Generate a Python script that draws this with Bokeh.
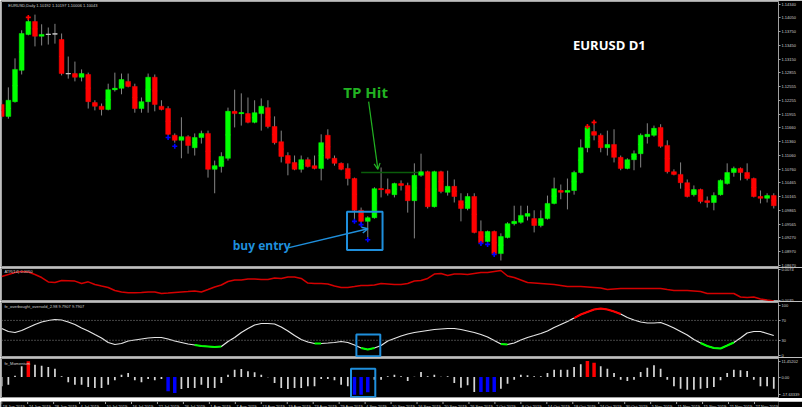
from bokeh.plotting import figure
from bokeh.layouts import column
from bokeh.models import (Range1d, FixedTicker, Label, Arrow, OpenHead, BoxAnnotation, Span,
                          ColumnDataSource, NumeralTickFormatter)
from bokeh.core.properties import value
from bokeh.embed import file_html
from bokeh.resources import INLINE

# ---------------- data ----------------
date_labels = ["18 Jun 2019", "24 Jun 2019", "28 Jun 2019", "4 Jul 2019", "10 Jul 2019", "16 Jul 2019",
               "22 Jul 2019", "26 Jul 2019", "1 Aug 2019", "7 Aug 2019", "13 Aug 2019", "19 Aug 2019",
               "23 Aug 2019", "29 Aug 2019", "4 Sep 2019", "10 Sep 2019", "16 Sep 2019", "20 Sep 2019",
               "26 Sep 2019", "2 Oct 2019", "8 Oct 2019", "14 Oct 2019", "18 Oct 2019", "24 Oct 2019",
               "30 Oct 2019", "5 Nov 2019", "11 Nov 2019", "15 Nov 2019", "21 Nov 2019", "27 Nov 2019"]
date_step = 4

opens = [1.1217, 1.1191, 1.1223, 1.1291, 1.1369, 1.1397, 1.1365, 1.1369, 1.1370, 1.1358,
         1.1284, 1.1284, 1.1276, 1.1282, 1.1221, 1.1213, 1.1206, 1.1249, 1.1252, 1.1267,
         1.1256, 1.1208, 1.1223, 1.1276, 1.1213, 1.1208, 1.1150, 1.1139, 1.1147, 1.1123,
         1.1145, 1.1154, 1.1076, 1.1082, 1.1100, 1.1202, 1.1197, 1.1197, 1.1178, 1.1197,
         1.1210, 1.1169, 1.1136, 1.1106, 1.1091, 1.1076, 1.1097, 1.1084, 1.1078, 1.1150,
         1.1100, 1.1089, 1.1078, 1.1056, 1.0987, 1.0963, 1.0971, 1.1034, 1.1032, 1.1021,
         1.1045, 1.1041, 1.1008, 1.1063, 1.1071, 1.0995, 1.1071, 1.1026, 1.1039, 1.1008,
         1.0991, 1.1017, 1.0941, 1.0919, 1.0941, 1.0893, 1.0928, 1.0958, 1.0961, 1.0974,
         1.0969, 1.0954, 1.0969, 1.1002, 1.1030, 1.1026, 1.1030, 1.1069, 1.1123, 1.1158,
         1.1150, 1.1123, 1.1130, 1.1102, 1.1078, 1.1097, 1.1110, 1.1147, 1.1150, 1.1167,
         1.1128, 1.1071, 1.1065, 1.1047, 1.1021, 1.1032, 1.1008, 1.1004, 1.1021, 1.1045,
         1.1069, 1.1078, 1.1069, 1.1056, 1.1017, 1.1013, 1.1019]
highs = [1.1226, 1.1254, 1.1317, 1.1378, 1.1404, 1.1412, 1.1391, 1.1384, 1.1392, 1.1371,
         1.1321, 1.1310, 1.1293, 1.1286, 1.1226, 1.1219, 1.1262, 1.1286, 1.1284, 1.1284,
         1.1262, 1.1232, 1.1284, 1.1282, 1.1226, 1.1213, 1.1154, 1.1189, 1.1150, 1.1154,
         1.1160, 1.1160, 1.1095, 1.1113, 1.1210, 1.1249, 1.1241, 1.1232, 1.1226, 1.1230,
         1.1226, 1.1191, 1.1160, 1.1113, 1.1106, 1.1106, 1.1102, 1.1106, 1.1152, 1.1163,
         1.1106, 1.1091, 1.1089, 1.1058, 1.0993, 1.0974, 1.1037, 1.1080, 1.1056, 1.1047,
         1.1052, 1.1047, 1.1089, 1.1110, 1.1073, 1.1073, 1.1073, 1.1073, 1.1054, 1.1024,
         1.1024, 1.1024, 1.0965, 1.0943, 1.0943, 1.0937, 1.0961, 1.0997, 1.0997, 1.0997,
         1.0987, 1.0987, 1.1019, 1.1058, 1.1043, 1.1056, 1.1073, 1.1141, 1.1169, 1.1174,
         1.1154, 1.1160, 1.1163, 1.1106, 1.1100, 1.1117, 1.1154, 1.1176, 1.1171, 1.1174,
         1.1139, 1.1076, 1.1091, 1.1054, 1.1041, 1.1034, 1.1017, 1.1026, 1.1054, 1.1089,
         1.1082, 1.1080, 1.1089, 1.1058, 1.1030, 1.1024, 1.1024]
lows = [1.1186, 1.1186, 1.1221, 1.1282, 1.1367, 1.1343, 1.1345, 1.1347, 1.1349, 1.1280,
        1.1273, 1.1267, 1.1267, 1.1208, 1.1204, 1.1193, 1.1204, 1.1245, 1.1239, 1.1254,
        1.1199, 1.1199, 1.1199, 1.1202, 1.1204, 1.1150, 1.1134, 1.1100, 1.1110, 1.1106,
        1.1132, 1.1058, 1.1024, 1.1069, 1.1095, 1.1167, 1.1171, 1.1176, 1.1176, 1.1160,
        1.1165, 1.1130, 1.1091, 1.1063, 1.1074, 1.1069, 1.1080, 1.1076, 1.1052, 1.1097,
        1.1084, 1.1074, 1.1041, 1.0965, 1.0958, 1.0928, 1.0969, 1.1015, 1.1019, 1.1015,
        1.1030, 1.0982, 1.0926, 1.1060, 1.0991, 1.0993, 1.1024, 1.1019, 1.1004, 1.0963,
        1.0987, 1.0937, 1.0911, 1.0911, 1.0889, 1.0878, 1.0926, 1.0954, 1.0958, 1.0965,
        1.0939, 1.0950, 1.0967, 1.1000, 1.1011, 1.0989, 1.1021, 1.1067, 1.1113, 1.1139,
        1.1113, 1.1106, 1.1091, 1.1074, 1.1076, 1.1074, 1.1080, 1.1132, 1.1147, 1.1123,
        1.1067, 1.1063, 1.1034, 1.1015, 1.1017, 1.1002, 1.0993, 1.0987, 1.1019, 1.1043,
        1.1060, 1.1052, 1.1052, 1.1015, 1.1002, 1.1004, 1.0991]
closes = [1.1191, 1.1226, 1.1293, 1.1371, 1.1397, 1.1365, 1.1369, 1.1369, 1.1370, 1.1284,
          1.1284, 1.1276, 1.1284, 1.1223, 1.1213, 1.1206, 1.1249, 1.1252, 1.1271, 1.1256,
          1.1208, 1.1223, 1.1276, 1.1217, 1.1206, 1.1152, 1.1139, 1.1147, 1.1128, 1.1145,
          1.1154, 1.1076, 1.1084, 1.1104, 1.1202, 1.1197, 1.1199, 1.1178, 1.1199, 1.1213,
          1.1169, 1.1134, 1.1104, 1.1089, 1.1076, 1.1097, 1.1082, 1.1078, 1.1134, 1.1100,
          1.1089, 1.1076, 1.1056, 1.0987, 1.0963, 1.0971, 1.1034, 1.1032, 1.1024, 1.1045,
          1.1041, 1.1008, 1.1063, 1.1071, 1.0995, 1.1071, 1.1028, 1.1039, 1.1017, 1.0991,
          1.1017, 1.0939, 1.0917, 1.0941, 1.0893, 1.0930, 1.0958, 1.0963, 1.0976, 1.0980,
          1.0954, 1.0969, 1.1002, 1.1034, 1.1026, 1.1030, 1.1069, 1.1123, 1.1167, 1.1150,
          1.1123, 1.1130, 1.1102, 1.1078, 1.1097, 1.1110, 1.1150, 1.1152, 1.1165, 1.1126,
          1.1071, 1.1065, 1.1047, 1.1017, 1.1032, 1.1006, 1.1004, 1.1019, 1.1052, 1.1069,
          1.1078, 1.1069, 1.1056, 1.1017, 1.1013, 1.1019, 1.0997]

buy_idx = [25, 26, 53, 54, 55, 72, 73, 74]
buy_mark = [1.1145, 1.1126, 1.0963, 1.0956, 1.0923, 1.0915, 1.0913, 1.0891]
sell_idx = [4, 88, 89]
sell_mark = [1.1406, 1.1169, 1.1178]

atr = [0.00652, 0.00677, 0.00702, 0.00715, 0.00709, 0.00677, 0.00639, 0.00583, 0.00576, 0.00602,
       0.00598, 0.00594, 0.00564, 0.00585, 0.00551, 0.00532, 0.00514, 0.00476, 0.00457, 0.00447,
       0.00448, 0.00451, 0.00457, 0.00457, 0.00438, 0.00444, 0.00451, 0.00457, 0.00463, 0.00470,
       0.00457, 0.00488, 0.00520, 0.00545, 0.00589, 0.00608, 0.00608, 0.00620, 0.00620, 0.00614,
       0.00614, 0.00633, 0.00627, 0.00646, 0.00646, 0.00627, 0.00570, 0.00564, 0.00564, 0.00558,
       0.00532, 0.00514, 0.00514, 0.00526, 0.00539, 0.00539, 0.00545, 0.00564, 0.00558, 0.00551,
       0.00551, 0.00564, 0.00595, 0.00602, 0.00627, 0.00683, 0.00690, 0.00665, 0.00683, 0.00683,
       0.00677, 0.00690, 0.00702, 0.00702, 0.00715, 0.00728, 0.00658, 0.00639, 0.00608, 0.00576,
       0.00570, 0.00564, 0.00558, 0.00551, 0.00539, 0.00526, 0.00526, 0.00526, 0.00520, 0.00514,
       0.00507, 0.00488, 0.00495, 0.00501, 0.00501, 0.00501, 0.00501, 0.00501, 0.00501, 0.00501,
       0.00488, 0.00476, 0.00476, 0.00476, 0.00470, 0.00463, 0.00438, 0.00438, 0.00438, 0.00438,
       0.00438, 0.00394, 0.00388, 0.00394, 0.00369, 0.00356, 0.00344]

osc = [53.7, 47.7, 45.7, 49.7, 55.7, 61.8, 66.8, 69.8, 71.8, 70.8,
       66.8, 61.8, 54.7, 48.7, 41.6, 34.6, 25.6, 21.5, 23.5, 28.6,
       30.6, 32.6, 34.6, 35.6, 35.6, 32.6, 28.6, 25.6, 22.5, 20.5,
       18.5, 17.5, 16.5, 17.5, 27.6, 35.6, 45.7, 53.7, 60.8, 63.8,
       63.8, 62.8, 56.7, 48.7, 39.6, 31.6, 26.6, 23.5, 23.5, 24.5,
       25.6, 27.6, 25.6, 20.5, 14.5, 11.5, 14.5, 19.5, 28.6, 33.6,
       38.6, 42.7, 45.7, 47.7, 49.7, 51.7, 52.7, 53.7, 53.7, 51.7,
       48.7, 45.7, 41.6, 36.6, 29.6, 22.5, 21.5, 24.5, 30.6, 35.6,
       39.6, 43.7, 48.7, 55.7, 61.8, 67.8, 74.8, 81.9, 86.9, 91.9,
       94.0, 91.9, 87.9, 82.9, 75.9, 70.8, 66.8, 64.8, 64.8, 65.8,
       60.8, 54.7, 47.7, 40.6, 31.6, 24.5, 18.5, 14.5, 13.5, 19.5,
       25.6, 34.6, 44.7, 47.7, 47.7, 43.7, 39.6]
osc_oversold_runs = [(29, 33), (47, 48), (54, 56), (75, 76), (105, 110)]
osc_overbought_runs = [(86, 93)]
osc_levels = [70, 30]

mom = [-6.68, -5.49, 0.95, 7.64, 11.21, 8.83, 8.11, 7.16, 5.97, 0.48,
       -3.82, -5.49, -5.49, -7.16, -7.87, -7.87, -5.49, -2.39, 1.67, 2.86,
       -2.39, -3.82, -1.43, -2.39, -1.43, -10.26, -11.45, -8.59, -7.87, -7.87,
       -5.49, -7.87, -7.87, -4.29, 1.67, 5.25, 5.73, 4.06, 3.34, 1.67,
       -0.24, -4.29, -7.87, -8.59, -7.87, -7.87, -6.68, -6.68, -1.43, -1.43,
       -2.39, -5.49, -6.68, -12.65, -12.65, -10.98, -1.91, -1.91, 0.48, 1.67,
       0.48, -2.86, 0.24, 3.58, 0.48, 1.67, 0.24, 0.48, -4.29, -7.64,
       -5.97, -10.74, -10.74, -10.74, -10.74, -8.35, -4.77, -1.91, 1.67, 1.19,
       0.48, 0.48, 2.86, 5.25, 5.25, 5.25, 7.16, 9.07, 11.45, 10.26,
       7.64, 5.97, 2.86, -1.91, -2.86, -1.91, 3.58, 6.68, 8.35, 5.97,
       -1.91, -6.68, -8.35, -9.07, -9.07, -8.35, -7.87, -7.16, -2.39, 2.86,
       5.25, 4.77, 4.29, -1.91, -6.68, -6.68, -8.35]

price_ticks = [1.14340, 1.14050, 1.13750, 1.13450, 1.13150, 1.12855, 1.12555, 1.12255, 1.11955, 1.11660,
               1.11360, 1.11060, 1.10760, 1.10465, 1.10165, 1.09865, 1.09565, 1.09270, 1.08970, 1.08670]
atr_ticks = [0.0074, 0.0035]
osc_ticks = [100, 70, 30, 0]
mom_tick_labels = ["11.45202", "0.00", "-17.63339"]

header_text = "EURUSD,Daily  1.10192 1.10197 1.10006 1.10043"
atr_title = "ATR(14) 0.0050"
osc_title = "fe_overbought_oversold_2.98 9.7907 9.7907"
mom_title = "fe_Momentum"
chart_title = "EURUSD D1"
tp_text = "TP Hit"
entry_text = "buy entry"
tp_level = 1.1069

# ---------------- styling / layout ----------------
W = 802
RB = 20
BG = "black"
SEP = "#a0a0a0"
TXT = "#d0d0d0"
UP, DN, DOJI = "#00ff00", "#ff0000", "#c0c0c0"
WICK = "#858585"
BLUE = "#1f8fdc"
TPGREEN = "#22b322"
SMALL = "4px"
FONT = "Liberation Sans"

n = len(opens)
idx = list(range(n))
x_range = Range1d(-0.03, 116.71)


def panel(h, y_range, top=1, bottom=0):
    p = figure(width=W, height=h, x_range=x_range, y_range=y_range, output_backend="svg",
               toolbar_location=None, x_axis_location=None, y_axis_location="right",
               min_border_left=1, min_border_right=RB, min_border_top=top, min_border_bottom=bottom,
               background_fill_color=BG, border_fill_color=BG,
               outline_line_color=SEP, outline_line_width=1)
    p.xgrid.visible = False
    p.ygrid.visible = False
    ax = p.yaxis[0]
    ax.axis_line_color = None
    ax.major_tick_line_color = SEP
    ax.major_tick_out = 2
    ax.major_tick_in = 0
    ax.minor_tick_line_color = None
    ax.major_label_standoff = 1
    ax.major_label_text_color = TXT
    ax.major_label_text_font = FONT
    ax.major_label_text_font_size = SMALL
    return p


def small_label(p, x, y, text):
    p.add_layout(Label(x=x, y=y, text=text, text_color=TXT, text_font=FONT,
                       text_font_size=SMALL, text_baseline="middle", text_align="left"))


def blue_box(p, left, right, bottom, top):
    p.add_layout(BoxAnnotation(left=left, right=right, bottom=bottom, top=top,
                               fill_color=None, fill_alpha=0, line_color=BLUE,
                               line_alpha=1.0, line_width=2))


# ---------------- main price panel ----------------
main = panel(267, Range1d(1.08628, 1.14405))
main.yaxis[0].ticker = FixedTicker(ticks=price_ticks)
main.yaxis[0].formatter = NumeralTickFormatter(format="0.00000")

colors = [UP if c > o else (DN if c < o else DOJI) for o, c in zip(opens, closes)]
src = ColumnDataSource(dict(
    i=idx, o=opens, h=highs, l=lows, c=closes,
    top=[max(o, c) for o, c in zip(opens, closes)],
    bot=[min(o, c) for o, c in zip(opens, closes)],
    mid=[(o + c) / 2 for o, c in zip(opens, closes)],
    color=colors))
main.segment(x0="i", y0="h", x1="i", y1="l", line_color=WICK, line_width=1, source=src)
main.vbar(x="i", width=0.72, top="top", bottom="bot", fill_color="color", line_color="color",
          line_width=0.5, source=src)
main.scatter(x="i", y="mid", marker="dash", size=4.8, line_color="color", line_width=1.2, source=src)

main.scatter(x=buy_idx, y=buy_mark, marker="cross", size=5, line_color="#0000ff", line_width=1.6)
main.scatter(x=sell_idx, y=sell_mark, marker="cross", size=5, line_color="#ff0000", line_width=1.6)

# TP level line and annotations
main.segment(x0=[54.0], y0=[tp_level], x1=[62.6], y1=[tp_level], line_color="#0b5c0b", line_width=1.5)
main.add_layout(Arrow(end=OpenHead(size=6, line_color=TPGREEN, line_width=1.2),
                      x_start=55.13, y_start=1.1223, x_end=56.52, y_end=1.1076,
                      line_color=TPGREEN, line_width=1.2))
main.add_layout(Arrow(end=OpenHead(size=6, line_color=BLUE, line_width=1.5),
                      x_start=43.17, y_start=1.0906, x_end=55.02, y_end=1.0947,
                      line_color=BLUE, line_width=1.5))
blue_box(main, 51.88, 57.22, 1.0901, 1.0984)
main.add_layout(Label(x=91.3, y=1.1347, text=chart_title, text_color="white",
                      text_font="Open Sans", text_font_style="bold", text_font_size="13px",
                      text_align="center", text_baseline="middle"))
main.add_layout(Label(x=54.68, y=1.1243, text=tp_text, text_color=TPGREEN,
                      text_font="Open Sans", text_font_style="bold", text_font_size="15px",
                      text_align="center", text_baseline="middle"))
main.add_layout(Label(x=39.06, y=1.0910, text=entry_text, text_color=BLUE,
                      text_font="Open Sans", text_font_style="bold", text_font_size="12px",
                      text_align="center", text_baseline="middle"))
small_label(main, 1.0, 1.14318, header_text)

# ---------------- ATR panel ----------------
atr_p = panel(34, Range1d(0.003374, 0.007526))
atr_p.yaxis[0].ticker = FixedTicker(ticks=atr_ticks)
atr_p.yaxis[0].formatter = NumeralTickFormatter(format="0.0000")
atr_p.line(idx, atr, line_color="#d40000", line_width=1.5)
small_label(atr_p, 0.42, 0.00709, atr_title)

# ---------------- overbought / oversold panel ----------------
osc_p = panel(56, Range1d(-4.63, 106.04))
osc_p.yaxis[0].ticker = FixedTicker(ticks=osc_ticks)
for lv in osc_levels:
    osc_p.add_layout(Span(location=lv, dimension="width", line_color="#8a8a8a",
                          line_dash="1 2", line_width=1))
osc_p.line(idx, osc, line_color="#e6e6e6", line_width=1.2)
for a, b in osc_oversold_runs:
    osc_p.line(idx[a:b + 1], osc[a:b + 1], line_color="#00ff00", line_width=2)
for a, b in osc_overbought_runs:
    osc_p.line(idx[a:b + 1], osc[a:b + 1], line_color="#ff0000", line_width=2)
blue_box(osc_p, 53.29, 56.88, -2.0, 41.65)
small_label(osc_p, 0.42, 98.0, osc_title)

# ---------------- momentum histogram panel ----------------
mom_p = panel(41, Range1d(-14.67, 13.24), top=1, bottom=1)
mom_ticks = [max(mom), 0.0, min(mom)]
mom_p.yaxis[0].ticker = FixedTicker(ticks=mom_ticks)
mom_p.yaxis[0].major_label_overrides = {t: s for t, s in zip(mom_ticks, mom_tick_labels)}
plain = [i for i in idx if i not in buy_idx and i not in sell_idx]
mom_p.vbar(x=plain, top=[mom[i] for i in plain], bottom=0, width=0.26,
           fill_color="#d6d6d6", line_color=None)
mom_p.vbar(x=buy_idx, top=[mom[i] for i in buy_idx], bottom=0, width=0.52,
           fill_color="#0000ff", line_color=None)
mom_p.vbar(x=sell_idx, top=[mom[i] for i in sell_idx], bottom=0, width=0.52,
           fill_color="#ff0000", line_color=None)
blue_box(mom_p, 52.48, 56.13, -14.3, 5.87)
small_label(mom_p, 0.42, 10.0, mom_title)

# ---------------- date strip ----------------
frame_w = W - 1 - RB
date_range = Range1d(x_range.start, x_range.start + (x_range.end - x_range.start) * (W - 1) / frame_w)
dates_p = figure(width=W, height=9, x_range=date_range, y_range=Range1d(0, 1), output_backend="svg",
                 toolbar_location=None, x_axis_location=None, y_axis_location=None,
                 min_border_left=1, min_border_right=0, min_border_top=0, min_border_bottom=0,
                 background_fill_color=BG, border_fill_color=BG, outline_line_color=None)
dates_p.xgrid.visible = False
dates_p.ygrid.visible = False
date_pos = list(range(0, n, date_step))
dates_p.segment(x0=date_pos, y0=[1] * len(date_pos), x1=date_pos, y1=[0.72] * len(date_pos),
                line_color=SEP, line_width=1)
dates_p.text(x=date_pos, y=[0.5] * len(date_pos), text=date_labels, x_offset=1,
             text_color=TXT, text_font=value(FONT), text_font_size=SMALL,
             text_align="left", text_baseline="middle")

layout = column(main, atr_p, osc_p, mom_p, dates_p, spacing=0)
open("out.html", "w").write(file_html(layout, INLINE))
